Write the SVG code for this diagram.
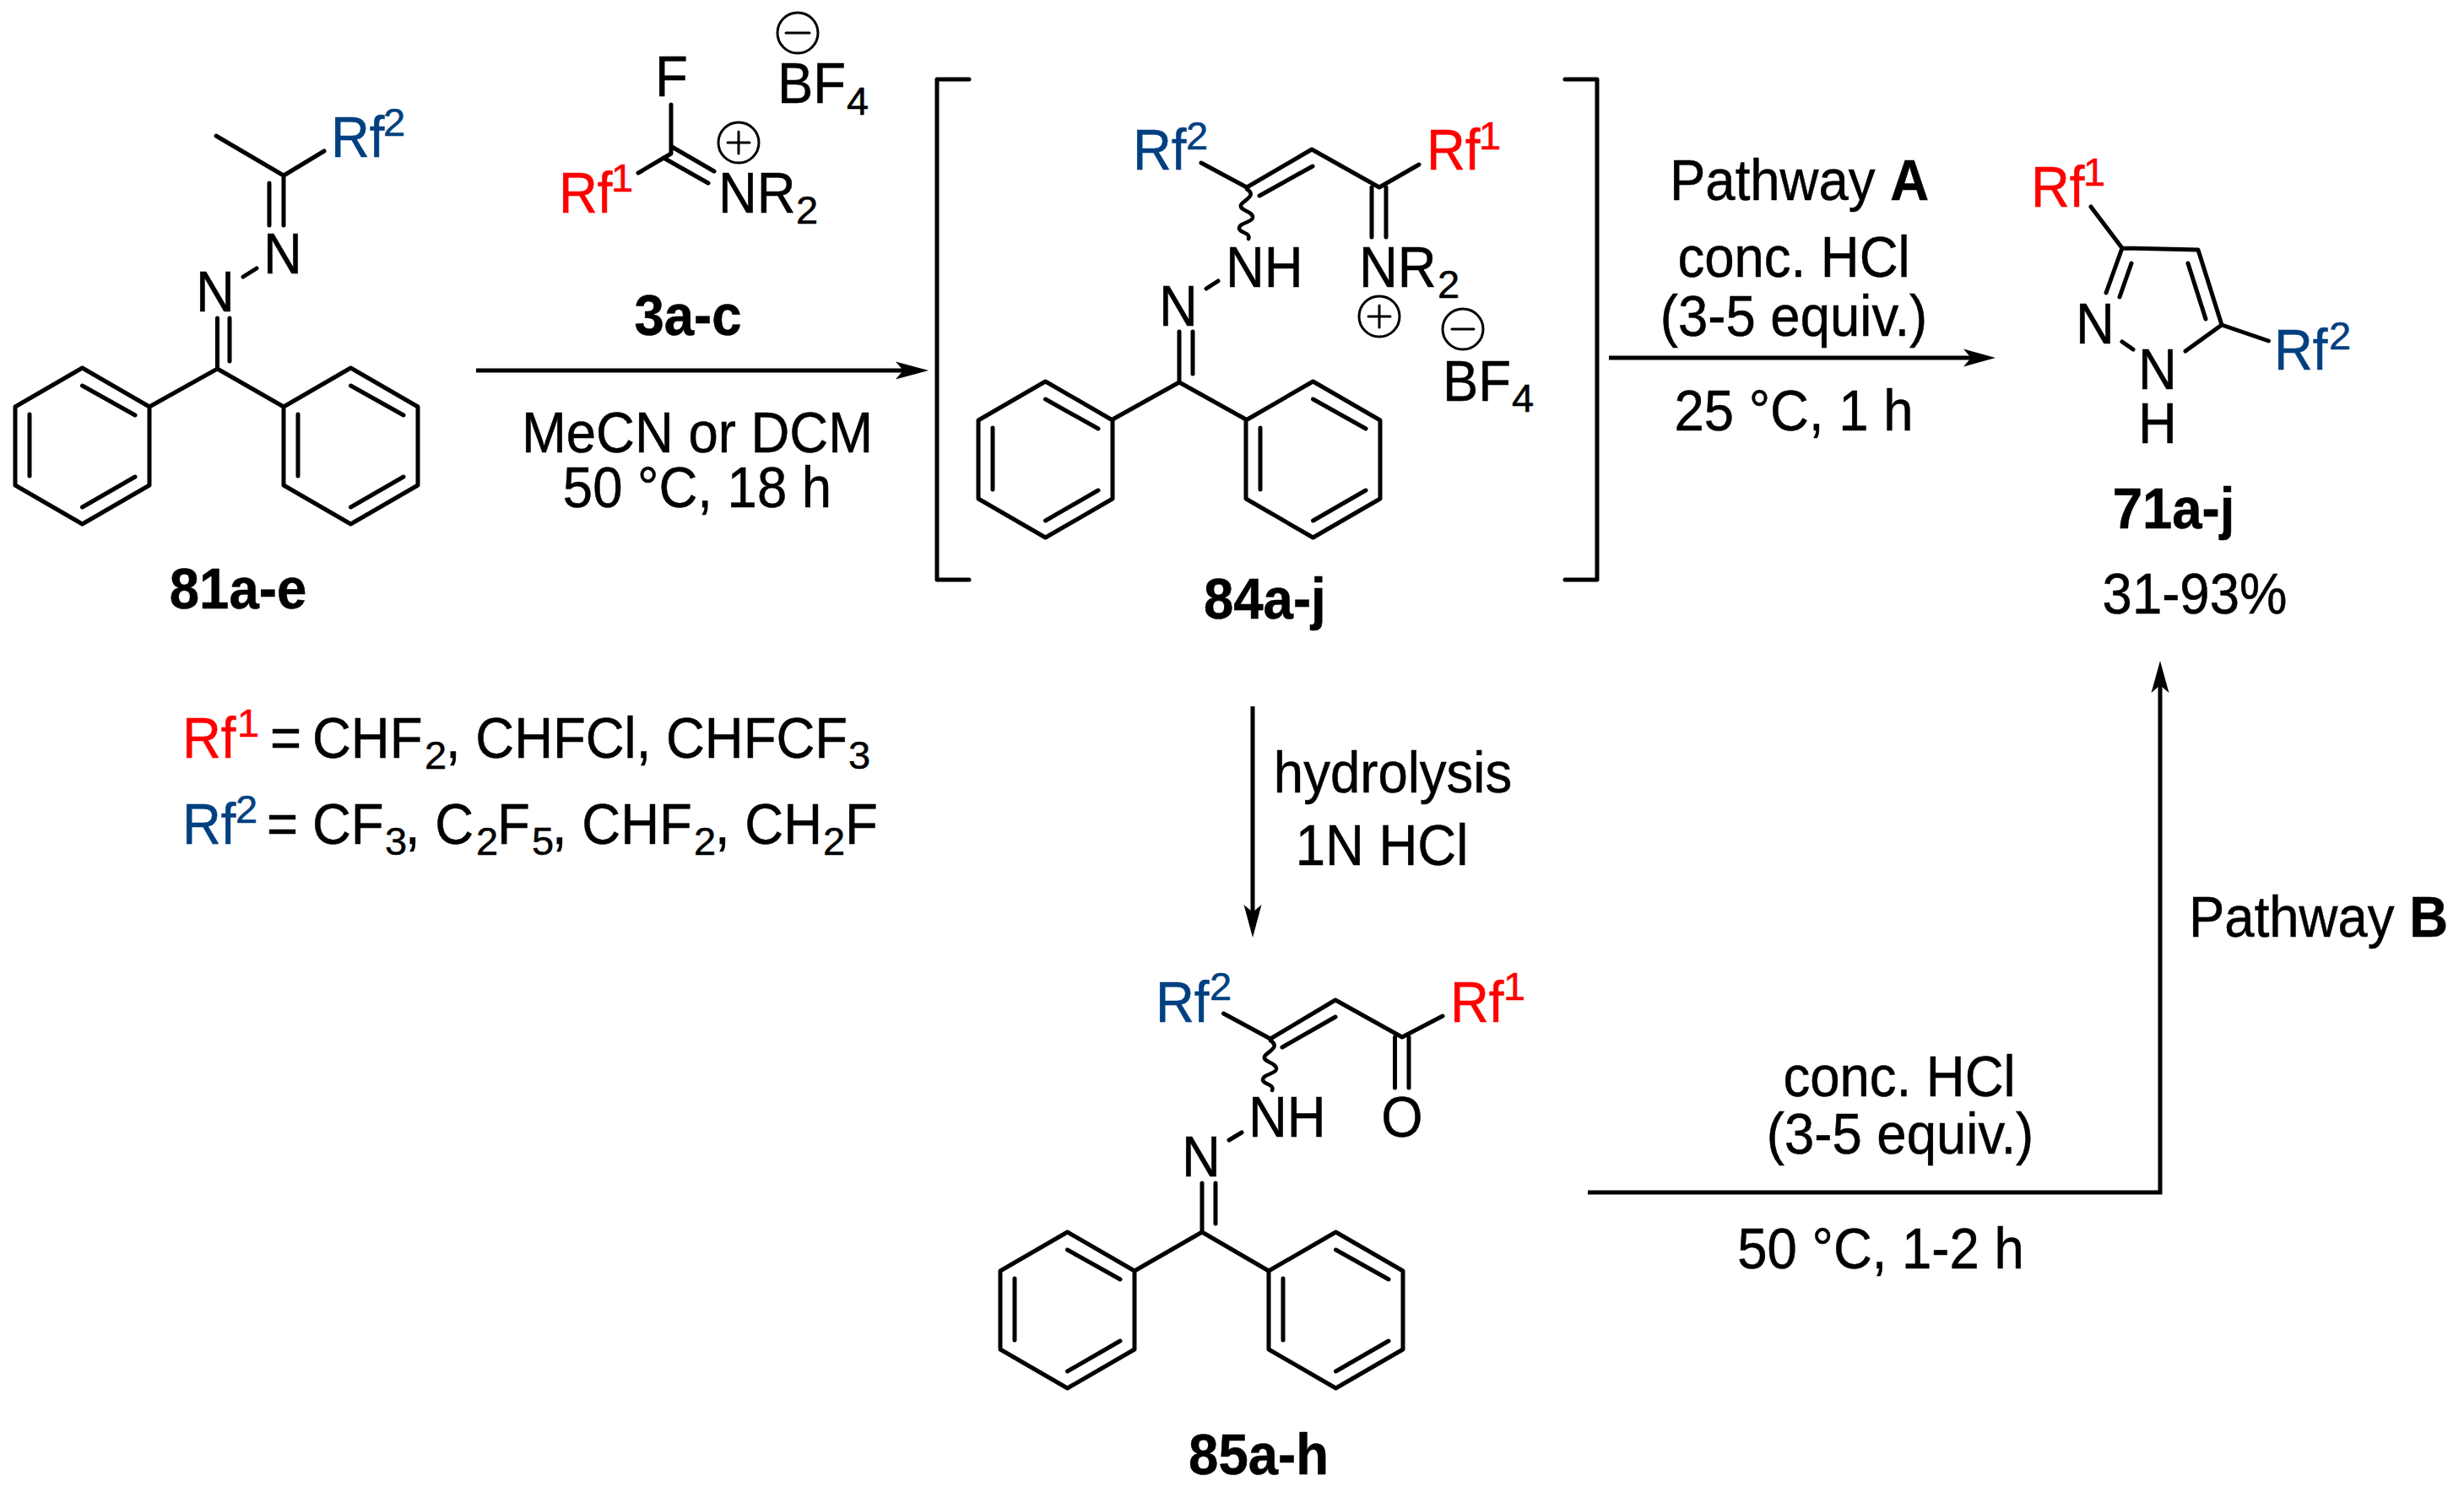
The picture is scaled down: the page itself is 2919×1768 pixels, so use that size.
<svg xmlns="http://www.w3.org/2000/svg" width="2919" height="1768" viewBox="0 0 2919 1768">
<defs>
<style>
text{font-family:"Liberation Sans",Arial,sans-serif;font-size:63.5px;fill:#000;stroke:#000;stroke-width:.5}
.b{font-weight:700}
.m{text-anchor:middle}
.red{fill:#ff0000;stroke:#ff0000}
.blue{fill:#004080;stroke:#004080}
.s{font-size:47px}
.bond{stroke:#000;stroke-width:5;fill:none;stroke-linecap:round;stroke-linejoin:round}
.thin{stroke-width:3}
.wave{stroke-width:4.5}
.line{stroke:#000;stroke-width:5;fill:none}
.head{fill:#000;stroke:none}
</style>
<g id="ph2" class="bond">
<path d="M79.500 0L159 46V139L79.500 185L0 139V46Z"/>
<path d="M79.500 21L142 56M17 55V128M79.500 165L142 129"/>
</g>
</defs>
<rect width="2919" height="1768" fill="#fff"/>
<g id="connectors">
<path class="line" d="M564 439H1070"/><path class="head" d="M1100 439L1061 428.500L1070 439L1061 449.500Z"/>
<path class="line" d="M1906 424H2335"/><path class="head" d="M2364 424L2326 413.500L2335 424L2326 434.500Z"/>
<path class="line" d="M1484 837V1085"/><path class="head" d="M1484 1111L1473.500 1072L1484 1081L1494.500 1072Z"/>
<path class="line" d="M1881 1413H2559V812"/><path class="head" d="M2559 783L2548.500 821L2559 812L2569.500 821Z"/>
</g>
<g id="n81">
<use href="#ph2" x="18" y="436"/>
<use href="#ph2" x="336" y="436"/>
<path class="bond" d="M177 482L257.500 437L336 482M257.500 437V377M272 428V377M288 328L304 318M336 208V267M319 217V267M256 161L336 208L384 179"/>
<text transform="matrix(1 0 0 1.07 232 369)">N</text><text transform="matrix(1 0 0 1.07 312 324)">N</text>
<text transform="matrix(1 0 0 1.07 392 186)" class="blue">Rf</text><text x="454" y="161" class="s blue">2</text>
<text transform="matrix(1 0 0 1.07 282 721)" class="b m">81a-e</text>
</g>
<g id="n3">
<path class="bond" d="M795 124V182L756 205M796 174L846 203M786 187L839 217"/>
<text transform="matrix(1 0 0 1.07 776 114)">F</text>
<circle cx="945" cy="39" r="24" class="bond thin"/><path class="bond thin" d="M931 39H959"/>
<text transform="matrix(1 0 0 1.07 921 122)">BF</text><text x="1003" y="136" class="s">4</text>
<circle cx="875" cy="169" r="24" class="bond thin"/><path class="bond thin" d="M862 169H888M875 156V182"/>
<text transform="matrix(1 0 0 1.07 662 252)" class="red">Rf</text><text x="724" y="227" class="s red">1</text>
<text transform="matrix(1 0 0 1.07 851 252)">NR</text><text x="943" y="265" class="s">2</text>
<text transform="matrix(1 0 0 1.07 815 397)" class="b m">3a-c</text>
</g>
<g id="n84">
<path class="bond" d="M1148 94H1110V687H1148M1854 94H1892V687H1854"/>
<use href="#ph2" x="1159" y="452"/>
<use href="#ph2" x="1476" y="452"/>
<path class="bond" d="M1423 193L1477 222L1554 177L1634 222L1681 195M1492 232L1555 197M1625 222V281M1642 222V281M1429 342L1443 333M1397 453V393M1413 443V393M1318 497L1397 453L1476 497"/>
<path class="bond wave" d="M1477 224C1490 232 1472 238 1470 243C1468 250 1485 250 1484 258C1483 264 1467 264 1468 271C1469 276 1482 276 1479 283"/>
<text transform="matrix(1 0 0 1.07 1342 201)" class="blue">Rf</text><text x="1405" y="177" class="s blue">2</text>
<text transform="matrix(1 0 0 1.07 1690 201)" class="red">Rf</text><text x="1752" y="177" class="s red">1</text>
<text transform="matrix(1 0 0 1.07 1452 340)">NH</text><text transform="matrix(1 0 0 1.07 1610 340)">NR</text><text x="1703" y="353" class="s">2</text>
<text transform="matrix(1 0 0 1.07 1373 386)">N</text>
<circle cx="1634" cy="375" r="24" class="bond thin"/><path class="bond thin" d="M1621 375H1647M1634 362V388"/>
<circle cx="1733" cy="390" r="24" class="bond thin"/><path class="bond thin" d="M1720 390H1746"/>
<text transform="matrix(1 0 0 1.07 1709 475)">BF</text><text x="1791" y="488" class="s">4</text>
<text transform="matrix(1 0 0 1.07 1426 733)" class="b">84a-j</text>
</g>
<g id="n85">
<use href="#ph2" x="1185" y="1460"/>
<use href="#ph2" x="1503" y="1460"/>
<path class="bond" d="M1449.500 1201L1505 1231L1582 1185L1661 1229L1709 1204M1519 1241L1582 1205M1652.500 1229V1289M1669 1229V1289M1456 1351L1471 1342M1424 1460V1402M1440 1450V1402M1344 1506L1424 1460L1503 1506"/>
<path class="bond wave" d="M1505 1233C1518 1241 1500 1247 1498 1252C1496 1259 1513 1259 1512 1267C1511 1273 1495 1273 1496 1280C1497 1285 1510 1285 1507 1292"/>
<text transform="matrix(1 0 0 1.07 1369 1211)" class="blue">Rf</text><text x="1433" y="1185" class="s blue">2</text>
<text transform="matrix(1 0 0 1.07 1718 1211)" class="red">Rf</text><text x="1781" y="1185" class="s red">1</text>
<text transform="matrix(1 0 0 1.07 1479 1347)">NH</text><text transform="matrix(1 0 0 1.07 1661 1347)" class="m">O</text><text transform="matrix(1 0 0 1.07 1400 1394)">N</text>
<text transform="matrix(1 0 0 1.07 1491 1747)" class="m b">85a-h</text>
</g>
<g id="n71">
<path class="bond" d="M2477 245L2514 294L2604 296L2632 385L2589 416M2514 294L2495 347M2525 312L2511 352M2592 312L2613 378M2632 385L2687.500 404M2514 405L2527 414"/>
<text transform="matrix(1 0 0 1.07 2459 407)">N</text><text transform="matrix(1 0 0 1.07 2533 461)">N</text><text transform="matrix(1 0 0 1.07 2533 525)">H</text>
<text transform="matrix(1 0 0 1.07 2406 245)" class="red">Rf</text><text x="2468" y="220" class="s red">1</text>
<text transform="matrix(1 0 0 1.07 2694 438)" class="blue">Rf</text><text x="2759" y="414" class="s blue">2</text>
<text transform="matrix(1 0 0 1.07 2575 626)" class="m b">71a-j</text>
<text transform="matrix(1 0 0 1.07 2600 727)" class="m">31-93%</text>
</g>
<g id="labels">
<text transform="matrix(1 0 0 1.07 826 536)" class="m">MeCN or DCM</text>
<text transform="matrix(1 0 0 1.07 826 601)" class="m">50 °C, 18 h</text>
<text transform="matrix(1 0 0 1.07 1978 237)">Pathway <tspan class="b">A</tspan></text>
<text transform="matrix(1 0 0 1.07 2125 328)" class="m">conc. HCl</text>
<text transform="matrix(1 0 0 1.07 2125 398)" class="m">(3-5 equiv.)</text>
<text transform="matrix(1 0 0 1.07 2125 510)" class="m">25 °C, 1 h</text>
<text transform="matrix(1 0 0 1.07 1650 939)" class="m">hydrolysis</text>
<text transform="matrix(1 0 0 1.07 1637 1025)" class="m">1N HCl</text>
<text transform="matrix(1 0 0 1.07 2250 1299)" class="m">conc. HCl</text>
<text transform="matrix(1 0 0 1.07 2251 1367)" class="m">(3-5 equiv.)</text>
<text transform="matrix(1 0 0 1.07 2228 1503)" class="m">50 °C, 1-2 h</text>
<text transform="matrix(1 0 0 1.07 2593 1110)">Pathway <tspan class="b">B</tspan></text>
</g>
<g id="legend">
<text transform="matrix(1 0 0 1.07 216 898)" class="red">Rf</text><text x="281" y="873" class="s red">1</text>
<text transform="matrix(1 0 0 1.07 320 898)">=</text>
<text transform="matrix(1 0 0 1.07 370 898)">CHF</text><text x="503" y="911" class="s">2</text><text transform="matrix(1 0 0 1.07 528 898)">, CHFCl, CHFCF</text><text x="1005" y="911" class="s">3</text>
<text transform="matrix(1 0 0 1.07 216 1000)" class="blue">Rf</text><text x="279" y="975" class="s blue">2</text>
<text transform="matrix(1 0 0 1.07 316 1000)">=</text>
<text transform="matrix(1 0 0 1.07 370 1000)">CF</text><text x="456" y="1013" class="s">3</text><text transform="matrix(1 0 0 1.07 480 1000)">, C</text><text x="564" y="1013" class="s">2</text><text transform="matrix(1 0 0 1.07 589 1000)">F</text><text x="630" y="1013" class="s">5</text><text transform="matrix(1 0 0 1.07 654 1000)">, CHF</text><text x="822" y="1013" class="s">2</text><text transform="matrix(1 0 0 1.07 847 1000)">, CH</text><text x="975" y="1013" class="s">2</text><text transform="matrix(1 0 0 1.07 1001 1000)">F</text>
</g>
</svg>
